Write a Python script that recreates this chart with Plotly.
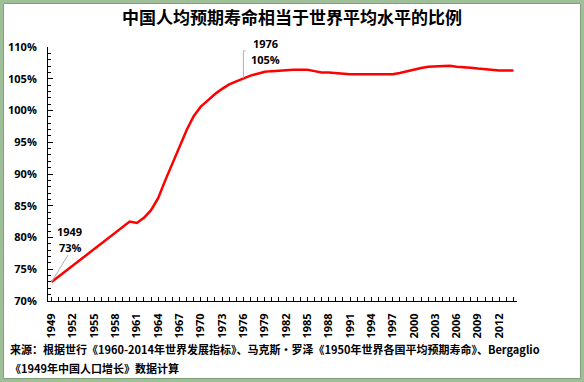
import plotly.graph_objects as go

years = list(range(1949, 2015))
ratio = [73.0, 73.86, 74.73, 75.59, 76.45, 77.32, 78.18, 79.05, 79.91, 80.77, 81.64, 82.5,
         82.3, 83.1, 84.3, 86.2, 89.0, 91.7, 94.4, 96.9, 99.1, 100.6, 101.6, 102.6, 103.4,
         104.1, 104.6, 105.1, 105.5, 105.8, 106.1, 106.2, 106.3, 106.4, 106.4, 106.4, 106.4,
         106.2, 106.0, 106.0, 105.9, 105.7, 105.7, 105.7, 105.7, 105.7, 105.7, 105.7, 105.7,
         105.9, 106.2, 106.5, 106.7, 106.9, 106.95, 107.0, 107.05, 106.9, 106.85, 106.75,
         106.6, 106.5, 106.35, 106.3, 106.3, 106.3]
tick_years = list(range(1949, 2013, 3))
y_ticks = [70, 75, 80, 85, 90, 95, 100, 105, 110]
y_tick_labels = [f"{v}%" for v in y_ticks]

title = "中国人均预期寿命相当于世界平均水平的比例"
source1 = "来源：根据世行《1960-2014年世界发展指标》、马克斯•罗泽《1950年世界各国平均预期寿命》、Bergaglio"
source2 = "《1949年中国人口增长》数据计算"

W, H = 584, 382
L, R, T, B = 48, 67, 47, 81
pw, ph = W - L - R, H - T - B

def px(X):
    return (X - L) / pw

def py(Y):
    return 1 - (Y - T) / ph

fig = go.Figure()
fig.add_trace(go.Scatter(x=years, y=ratio, mode="lines",
                         line=dict(color="#FF0000", width=2.5), hoverinfo="skip"))

fig.update_layout(
    width=W, height=H,
    margin=dict(l=L, r=R, t=T, b=B, autoexpand=False),
    paper_bgcolor="white", plot_bgcolor="white",
    showlegend=False,
    font=dict(family="Open Sans, Noto Sans CJK SC", color="#000000"),
)
fig.update_xaxes(
    range=[1948.5, 2014.5], tickmode="array", tickvals=tick_years,
    ticktext=[str(y) for y in tick_years], tickangle=-90, automargin=False,
    showline=True, linecolor="#000000", linewidth=1, mirror=False,
    ticks="inside", ticklen=4, tickcolor="#000000",
    minor=dict(tickmode="linear", tick0=1949, dtick=1, ticks="inside", ticklen=4, tickcolor="#000000"),
    showgrid=False, zeroline=False, ticklabelstandoff=7,
    tickfont=dict(size=11, family="Open Sans", weight="bold"),
)
fig.update_yaxes(
    range=[70, 110], tickmode="array", tickvals=y_ticks, ticktext=y_tick_labels,
    showline=True, linecolor="#000000", linewidth=1, automargin=False,
    ticks="inside", ticklen=5, tickcolor="#000000",
    minor=dict(tickmode="linear", tick0=70, dtick=1, ticks="inside", ticklen=3, tickcolor="#000000"),
    showgrid=False, zeroline=False, ticklabelstandoff=8,
    tickfont=dict(size=11, family="Open Sans", weight="bold"),
)

# leader lines
fig.add_shape(type="line", x0=1949, y0=73.0, x1=1951.3, y1=77.2,
              line=dict(color="#b0b0b0", width=1))
fig.add_shape(type="line", x0=1976, y0=105.1, x1=1976, y1=109.4,
              line=dict(color="#b0b0b0", width=1))
fig.add_shape(type="line", x0=1976, y0=109.4, x1=1976.3, y1=109.4,
              line=dict(color="#b0b0b0", width=1))

ann_font = dict(size=11, family="Open Sans", weight="bold", color="#000000")
fig.add_annotation(x=px(55), y=py(231), xref="paper", yref="paper", text="1949",
                   showarrow=False, xanchor="left", yanchor="middle", font=ann_font)
fig.add_annotation(x=px(57), y=py(247), xref="paper", yref="paper", text="73%",
                   showarrow=False, xanchor="left", yanchor="middle", font=ann_font)
fig.add_annotation(x=px(251), y=py(43), xref="paper", yref="paper", text="1976",
                   showarrow=False, xanchor="left", yanchor="middle", font=ann_font)
fig.add_annotation(x=px(249), y=py(59), xref="paper", yref="paper", text="105%",
                   showarrow=False, xanchor="left", yanchor="middle", font=ann_font)

# title
fig.add_annotation(x=px(292), y=py(16), xref="paper", yref="paper", text=title,
                   showarrow=False, xanchor="center", yanchor="middle",
                   font=dict(size=17, family="Noto Sans CJK SC", weight="bold", color="#000000"))
# source
src_font = dict(size=11, family="Noto Sans CJK SC", weight="bold", color="#000000")
fig.add_annotation(x=px(8), y=py(349), xref="paper", yref="paper", text=source1,
                   showarrow=False, xanchor="left", yanchor="middle", font=src_font)
fig.add_annotation(x=px(8), y=py(368), xref="paper", yref="paper", text=source2,
                   showarrow=False, xanchor="left", yanchor="middle", font=src_font)

# frame
fig.add_shape(type="rect", xref="paper", yref="paper",
              x0=px(1.5), x1=px(W - 1.5), y0=py(H - 1.5), y1=py(1.5),
              line=dict(color="#9fbf98", width=3), layer="below")
fig.add_shape(type="rect", xref="paper", yref="paper",
              x0=px(3.5), x1=px(W - 3.5), y0=py(H - 3.5), y1=py(3.5),
              line=dict(color="#7f9f7a", width=1), layer="below")

fig.write_html("out.html", config={"displayModeBar": False},
               post_script="document.body.style.margin='0';document.body.style.padding='0';")
